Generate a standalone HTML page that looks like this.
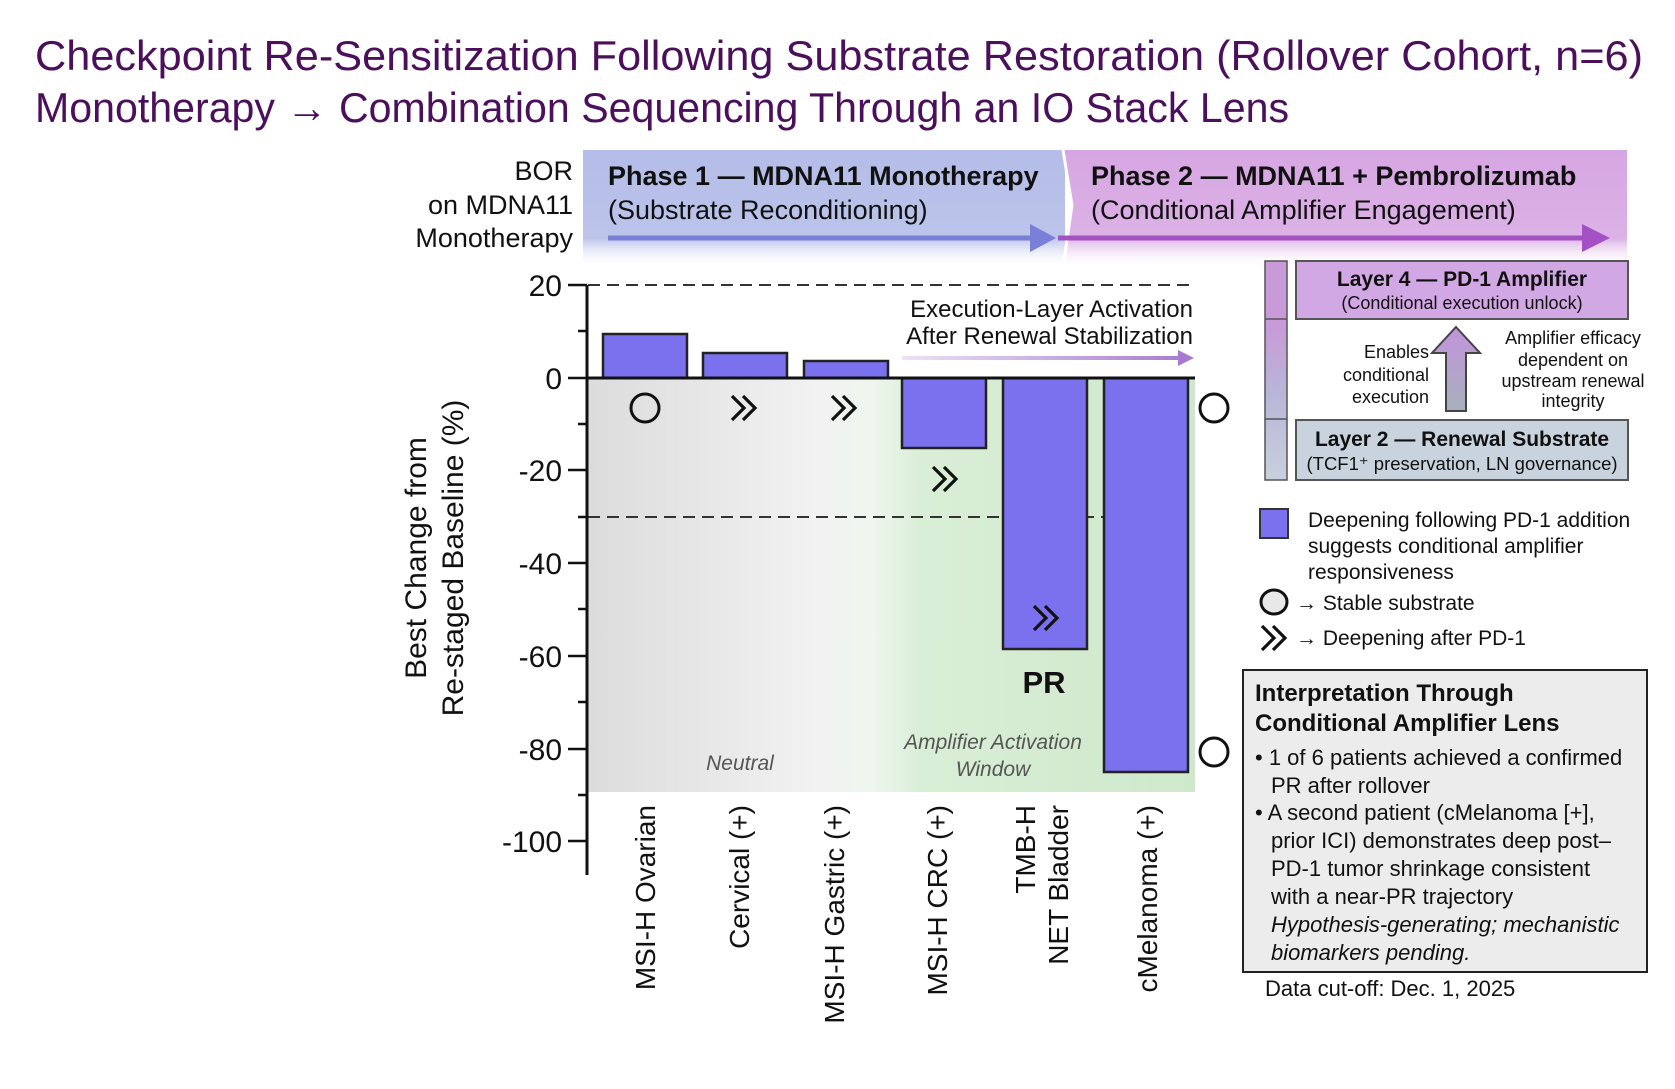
<!DOCTYPE html>
<html><head><meta charset="utf-8"><style>
html,body{margin:0;padding:0;background:#fff}
svg{display:block}
text{font-family:"Liberation Sans",Arial,sans-serif}
</style></head><body>
<svg width="1675" height="1089" viewBox="0 0 1675 1089" xmlns="http://www.w3.org/2000/svg">
<defs>
<linearGradient id="bgfade" x1="0" x2="1" y1="0" y2="0">
<stop offset="0" stop-color="#dcdcdc"/><stop offset="0.38" stop-color="#f2f2f2"/><stop offset="0.47" stop-color="#eef6ee"/><stop offset="0.55" stop-color="#d9eed6"/><stop offset="1" stop-color="#cfe8cb"/>
</linearGradient>
<linearGradient id="p1" x1="0" x2="0" y1="0" y2="1"><stop offset="0" stop-color="#b4bde8"/><stop offset="0.75" stop-color="#bcc4ea"/><stop offset="1" stop-color="#ffffff" stop-opacity="0"/></linearGradient>
<linearGradient id="p2" x1="0" x2="0" y1="0" y2="1"><stop offset="0" stop-color="#d6a6e2"/><stop offset="0.75" stop-color="#dcb2e6"/><stop offset="1" stop-color="#ffffff" stop-opacity="0"/></linearGradient>
<linearGradient id="vbar" x1="0" x2="0" y1="0" y2="1"><stop offset="0" stop-color="#c89ad8"/><stop offset="0.3" stop-color="#c89ad8"/><stop offset="0.6" stop-color="#b8b6d8"/><stop offset="1" stop-color="#c8d0dc"/></linearGradient>
<linearGradient id="uparr" x1="0" x2="0" y1="0" y2="1"><stop offset="0" stop-color="#c294dc"/><stop offset="1" stop-color="#a8b0bc"/></linearGradient>
<linearGradient id="execarr" gradientUnits="userSpaceOnUse" x1="902" y1="0" x2="1190" y2="0"><stop offset="0" stop-color="#ece2f4"/><stop offset="1" stop-color="#a77ad0"/></linearGradient>
<g id="chev"><path d="M-14,-12 L-2,0 L-14,12 M-3,-12 L9,0 L-3,12" fill="none" stroke="#111" stroke-width="3.2"/></g>
</defs>

<!-- Title -->
<text x="35" y="70" font-size="42" fill="#4b0f5c" textLength="1608" lengthAdjust="spacingAndGlyphs">Checkpoint Re-Sensitization Following Substrate Restoration (Rollover Cohort, n=6)</text>
<text x="35" y="122" font-size="42" fill="#4b0f5c" textLength="1254" lengthAdjust="spacingAndGlyphs">Monotherapy → Combination Sequencing Through an IO Stack Lens</text>

<!-- Phase banner -->
<rect x="583" y="150" width="482" height="118" fill="url(#p1)"/>
<polygon points="1063,150 1627,150 1627,268 1063,268 1072,205" fill="url(#p2)"/>
<line x1="1063" y1="150" x2="1072" y2="205" stroke="#fff" stroke-width="3"/>
<line x1="1072" y1="205" x2="1063" y2="268" stroke="#fff" stroke-width="3"/>
<text x="608" y="185" font-size="27" font-weight="bold" fill="#111">Phase 1 — MDNA11 Monotherapy</text>
<text x="608" y="219" font-size="27" fill="#111">(Substrate Reconditioning)</text>
<text x="1091" y="185" font-size="27" font-weight="bold" fill="#111">Phase 2 — MDNA11 + Pembrolizumab</text>
<text x="1091" y="219" font-size="27" fill="#111">(Conditional Amplifier Engagement)</text>
<line x1="608" y1="238" x2="1035" y2="238" stroke="#7a80d8" stroke-width="5"/>
<polygon points="1030,224 1056,238 1030,252" fill="#7a80d8"/>
<line x1="1058" y1="238" x2="1585" y2="238" stroke="#a451c4" stroke-width="5"/>
<polygon points="1582,224 1610,238 1582,252" fill="#a451c4"/>

<text x="573" y="180" font-size="27" text-anchor="end" fill="#111">BOR</text>
<text x="573" y="214" font-size="27" text-anchor="end" fill="#111">on MDNA11</text>
<text x="573" y="247" font-size="27" text-anchor="end" fill="#111">Monotherapy</text>

<!-- Chart background -->
<rect x="588" y="378" width="607" height="414" fill="url(#bgfade)"/>

<!-- dashed lines -->
<line x1="588" y1="285" x2="1195" y2="285" stroke="#333" stroke-width="2" stroke-dasharray="12,7"/>
<line x1="588" y1="517" x2="1195" y2="517" stroke="#333" stroke-width="2" stroke-dasharray="12,7"/>

<!-- bars -->
<g fill="#7b70ee" stroke="#222" stroke-width="2.5">
<rect x="603" y="334" width="84" height="44"/>
<rect x="703" y="353" width="84" height="25"/>
<rect x="804" y="361" width="84" height="17"/>
<rect x="902" y="378" width="84" height="70"/>
<rect x="1003" y="378" width="84" height="271"/>
<rect x="1104" y="378" width="84" height="394"/>
</g>
<line x1="588" y1="378" x2="1195" y2="378" stroke="#111" stroke-width="3"/>

<!-- axis -->
<line x1="587" y1="285" x2="587" y2="875" stroke="#111" stroke-width="3"/>
<g stroke="#111" stroke-width="2.5">
<line x1="568" y1="285" x2="587" y2="285"/><line x1="568" y1="378" x2="587" y2="378"/><line x1="568" y1="470" x2="587" y2="470"/><line x1="568" y1="563" x2="587" y2="563"/><line x1="568" y1="656" x2="587" y2="656"/><line x1="568" y1="749" x2="587" y2="749"/><line x1="568" y1="841" x2="587" y2="841"/>
<line x1="578" y1="331" x2="587" y2="331"/><line x1="578" y1="424" x2="587" y2="424"/><line x1="578" y1="517" x2="587" y2="517"/><line x1="578" y1="609" x2="587" y2="609"/><line x1="578" y1="702" x2="587" y2="702"/><line x1="578" y1="795" x2="587" y2="795"/>
</g>
<g font-size="30" text-anchor="end" fill="#111">
<text x="562" y="296">20</text><text x="562" y="389">0</text><text x="562" y="481">-20</text><text x="562" y="574">-40</text><text x="562" y="667">-60</text><text x="562" y="760">-80</text><text x="562" y="852">-100</text>
</g>
<text transform="translate(426,558) rotate(-90)" font-size="30" text-anchor="middle" fill="#111">Best Change from</text>
<text transform="translate(463,558) rotate(-90)" font-size="30" text-anchor="middle" fill="#111">Re-staged  Baseline (%)</text>

<!-- markers -->
<circle cx="645" cy="408" r="14" fill="none" stroke="#111" stroke-width="3"/>
<use href="#chev" x="746" y="408"/>
<use href="#chev" x="846" y="408"/>
<use href="#chev" x="947" y="479"/>
<use href="#chev" x="1048" y="618"/>
<circle cx="1214" cy="408" r="14" fill="#fff" stroke="#111" stroke-width="3"/>
<circle cx="1214" cy="752" r="14" fill="#fff" stroke="#111" stroke-width="3"/>

<text x="1044" y="693" font-size="31" font-weight="bold" text-anchor="middle" fill="#111">PR</text>
<text x="740" y="770" font-size="21" font-style="italic" text-anchor="middle" fill="#555">Neutral</text>
<text x="993" y="749" font-size="21" font-style="italic" text-anchor="middle" fill="#555">Amplifier Activation</text>
<text x="993" y="776" font-size="21" font-style="italic" text-anchor="middle" fill="#555">Window</text>

<text x="1193" y="317" font-size="24" text-anchor="end" fill="#111">Execution-Layer Activation</text>
<text x="1193" y="344" font-size="24" text-anchor="end" fill="#111">After Renewal Stabilization</text>
<rect x="902" y="356" width="278" height="4" fill="url(#execarr)"/>
<polygon points="1178,350 1194,358 1178,366" fill="#a77ad0"/>

<!-- x labels -->
<g font-size="28" fill="#111" text-anchor="end">
<text transform="translate(655,805) rotate(-90)">MSI-H Ovarian</text>
<text transform="translate(749,805) rotate(-90)">Cervical (+)</text>
<text transform="translate(844,805) rotate(-90)">MSI-H Gastric (+)</text>
<text transform="translate(947,805) rotate(-90)">MSI-H CRC (+)</text>
<text transform="translate(1035,805) rotate(-90)">TMB-H</text>
<text transform="translate(1068,805) rotate(-90)">NET Bladder</text>
<text transform="translate(1157,805) rotate(-90)">cMelanoma (+)</text>
</g>

<!-- right panel stack -->
<rect x="1265" y="261" width="22" height="219" fill="url(#vbar)" stroke="#555" stroke-width="1.5"/>
<line x1="1265" y1="319" x2="1287" y2="319" stroke="#555" stroke-width="1.5"/>
<line x1="1265" y1="419" x2="1287" y2="419" stroke="#555" stroke-width="1.5"/>
<rect x="1296" y="261" width="332" height="58" fill="#d2a8e4" stroke="#555" stroke-width="2"/>
<text x="1462" y="286" font-size="21" font-weight="bold" text-anchor="middle" fill="#111">Layer 4 — PD-1 Amplifier</text>
<text x="1462" y="309" font-size="18" text-anchor="middle" fill="#111">(Conditional execution unlock)</text>
<rect x="1296" y="420" width="332" height="60" fill="#c9d3dd" stroke="#555" stroke-width="2"/>
<text x="1462" y="446" font-size="21" font-weight="bold" text-anchor="middle" fill="#111">Layer 2 — Renewal Substrate</text>
<text x="1462" y="470" font-size="18.5" text-anchor="middle" fill="#111">(TCF1⁺ preservation, LN governance)</text>
<polygon points="1456,327 1480,353 1466,353 1466,411 1446,411 1446,353 1432,353" fill="url(#uparr)" stroke="#444" stroke-width="2"/>
<g font-size="18" fill="#111">
<text x="1429" y="358" text-anchor="end">Enables</text>
<text x="1429" y="381" text-anchor="end">conditional</text>
<text x="1429" y="403" text-anchor="end">execution</text>
<text x="1573" y="344" text-anchor="middle">Amplifier efficacy</text>
<text x="1573" y="366" text-anchor="middle">dependent on</text>
<text x="1573" y="387" text-anchor="middle">upstream renewal</text>
<text x="1573" y="407" text-anchor="middle">integrity</text>
</g>

<!-- legend -->
<rect x="1260" y="509" width="28" height="29" fill="#7b70ee" stroke="#333" stroke-width="2"/>
<g font-size="21" fill="#111">
<text x="1308" y="527">Deepening following PD-1 addition</text>
<text x="1308" y="553">suggests conditional amplifier</text>
<text x="1308" y="579">responsiveness</text>
<text x="1296" y="610">→ Stable substrate</text>
<text x="1296" y="645">→ Deepening after PD-1</text>
</g>
<ellipse cx="1274" cy="602" rx="13" ry="12" fill="#e8e8e8" stroke="#111" stroke-width="3"/>
<use href="#chev" x="1276" y="638"/>

<!-- interpretation box -->
<rect x="1243" y="670" width="404" height="302" fill="#ececec" stroke="#222" stroke-width="2"/>
<g fill="#111">
<text x="1255" y="701" font-size="24" font-weight="bold">Interpretation Through</text>
<text x="1255" y="731" font-size="24" font-weight="bold">Conditional Amplifier Lens</text>
<g font-size="22">
<text x="1255" y="765">• 1 of 6 patients achieved a confirmed</text>
<text x="1271" y="793">PR after rollover</text>
<text x="1255" y="820">• A second patient (cMelanoma [+],</text>
<text x="1271" y="848">prior ICI) demonstrates deep post–</text>
<text x="1271" y="876">PD-1 tumor shrinkage consistent</text>
<text x="1271" y="904">with a near-PR trajectory</text>
<text x="1271" y="932" font-style="italic">Hypothesis-generating; mechanistic</text>
<text x="1271" y="960" font-style="italic">biomarkers pending.</text>
</g>
<text x="1265" y="996" font-size="22">Data cut-off: Dec. 1, 2025</text>
</g>
</svg>
</body></html>
